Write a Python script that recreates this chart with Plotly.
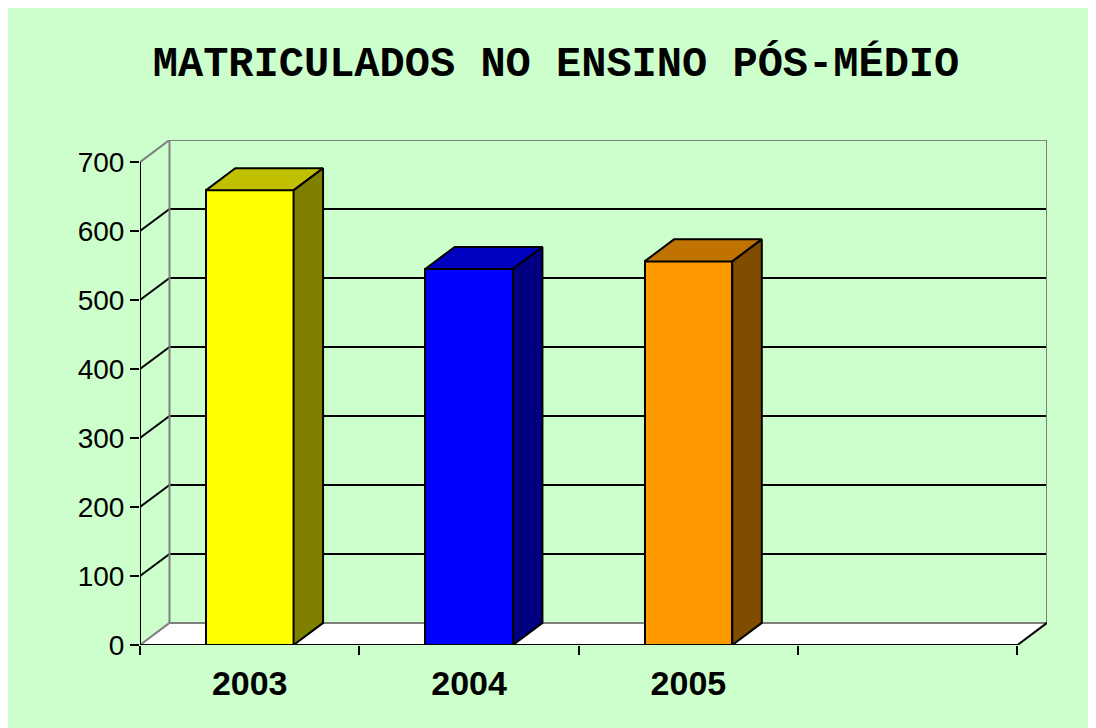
import plotly.graph_objects as go

# ---- data ----
years = ["2003", "2004", "2005"]
values = [659, 545, 556]
front_colors = ["#FFFF00", "#0000FF", "#FF9900"]
top_colors = ["#C0C000", "#0000C0", "#C07300"]
side_colors = ["#808000", "#000080", "#804C00"]
y_ticks = [0, 100, 200, 300, 400, 500, 600, 700]
n_cats = 4

# ---- 3D geometry (in axis units) ----
BAR_W = 0.4
DX = 0.1345   # depth offset along x
DY = 32.0     # depth offset along y
YMAX = 700

BG = "#CCFFCC"
GRAY = "#808080"

fig = go.Figure()

xpos = list(range(len(years)))

# front faces
fig.add_trace(go.Bar(
    x=xpos, y=values, width=BAR_W,
    marker=dict(color=front_colors, line=dict(color="black", width=2)),
    showlegend=False, hoverinfo="skip",
))

# top and side faces
for i, v in enumerate(values):
    xl, xr = i - BAR_W / 2, i + BAR_W / 2
    fig.add_trace(go.Scatter(
        x=[xl, xl + DX, xr + DX, xr, xl],
        y=[v, v + DY, v + DY, v, v],
        fill="toself", fillcolor=top_colors[i], mode="lines",
        line=dict(color="black", width=2), showlegend=False, hoverinfo="skip",
    ))
    fig.add_trace(go.Scatter(
        x=[xr, xr + DX, xr + DX, xr, xr],
        y=[0, DY, v + DY, v, 0],
        fill="toself", fillcolor=side_colors[i], mode="lines",
        line=dict(color="black", width=2), showlegend=False, hoverinfo="skip",
    ))

x0, x1 = -0.5, n_cats - 0.5
shapes = []
# floor
shapes.append(dict(type="path", layer="below",
                   path=f"M {x0},0 L {x0+DX},{DY} L {x1+DX},{DY} L {x1},0 Z",
                   fillcolor="white", line=dict(width=0)))
# back wall gridlines and side-wall diagonals
for t in y_ticks:
    col = GRAY if t in (0, YMAX) else "black"
    shapes.append(dict(type="line", layer="below", x0=x0 + DX, x1=x1 + DX,
                       y0=t + DY, y1=t + DY, line=dict(color=col, width=2)))
    shapes.append(dict(type="line", layer="below", x0=x0, x1=x0 + DX,
                       y0=t, y1=t + DY, line=dict(color=col, width=2)))
# wall vertical edges
shapes.append(dict(type="line", layer="below", x0=x0 + DX, x1=x0 + DX,
                   y0=DY, y1=YMAX + DY, line=dict(color=GRAY, width=2)))
shapes.append(dict(type="line", layer="below", x0=x1 + DX, x1=x1 + DX,
                   y0=DY, y1=YMAX + DY, line=dict(color=GRAY, width=2)))
# floor right diagonal
shapes.append(dict(type="line", layer="below", x0=x1, x1=x1 + DX,
                   y0=0, y1=DY, line=dict(color="black", width=2)))
# axis lines
shapes.append(dict(type="line", layer="above", x0=x0, x1=x0,
                   y0=0, y1=YMAX, line=dict(color="black", width=2)))
shapes.append(dict(type="line", layer="above", x0=x0, x1=x1,
                   y0=0, y1=0, line=dict(color="black", width=2)))

fig.update_layout(
    width=1096, height=728, autosize=False,
    paper_bgcolor=BG, plot_bgcolor=BG,
    margin=dict(l=132, r=57, t=132, b=91),
    shapes=shapes,
    title=dict(
        text="MATRICULADOS NO ENSINO PÓS-MÉDIO",
        x=0.5, xanchor="center", y=1 - 53 / 728, yanchor="middle",
        font=dict(family="Liberation Mono, Courier New, monospace", size=42,
                  color="black", weight="bold"),
    ),
    xaxis=dict(
        range=[x0, x1 + DX], showgrid=False, zeroline=False, showline=False,
        tickvals=xpos, ticktext=years, ticks="",
        ticklabelstandoff=15,
        tickfont=dict(family="Liberation Sans, Arial, sans-serif", size=34,
                      color="black", weight="bold"),
        minor=dict(tickvals=[x0 + k for k in range(n_cats + 1)], ticks="outside",
                   ticklen=9, tickwidth=2, tickcolor="black", showgrid=False),
        fixedrange=True,
    ),
    yaxis=dict(
        range=[0, YMAX + DY], showgrid=False, zeroline=False, showline=False,
        tickvals=y_ticks, ticks="outside", ticklen=9, tickwidth=2,
        tickcolor="black",
        tickfont=dict(family="Liberation Sans, Arial, sans-serif", size=28,
                      color="black"),
        fixedrange=True,
    ),
    bargap=0,
)

fig.write_html("out.html")
